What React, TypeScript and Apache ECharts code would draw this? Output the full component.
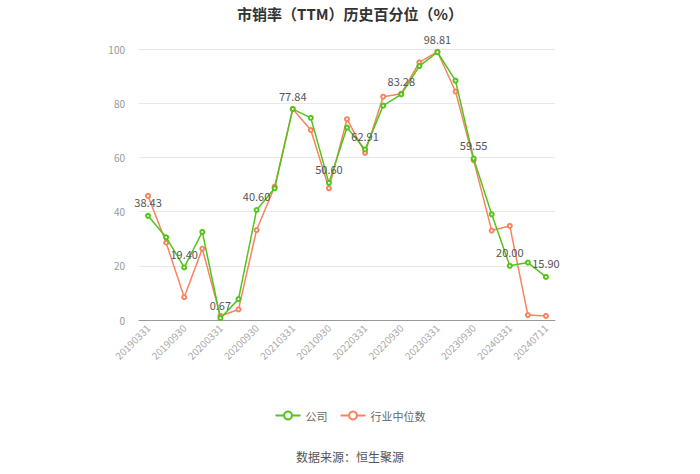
import React, { useEffect, useRef } from "react";
import * as echarts from "echarts";

const categories = [
  "20190331", "20190630", "20190930", "20191231", "20200331", "20200630",
  "20200930", "20201231", "20210331", "20210630", "20210930", "20211231",
  "20220331", "20220630", "20220930", "20221231", "20230331", "20230630",
  "20230930", "20231231", "20240331", "20240630", "20240711",
];

const companyValues = [
  38.43, 30.5, 19.4, 32.5, 0.67, 7.7, 40.6, 48.6, 77.84, 74.6, 50.6, 71.0,
  62.91, 79.1, 83.28, 93.7, 98.81, 88.3, 59.55, 39.0, 20.0, 21.2, 15.9,
];

const industryValues = [
  45.8, 28.5, 8.4, 26.3, 1.5, 3.9, 33.2, 49.2, 77.9, 70.1, 48.6, 74.1,
  61.7, 82.4, 83.5, 95.1, 99.0, 84.3, 59.0, 33.0, 34.7, 1.8, 1.5,
];

const labeledIndexes = [0, 2, 4, 6, 8, 10, 12, 14, 16, 18, 20, 22];

const GREEN = "#52c41a";
const ORANGE = "#f7845e";

export default function App() {
  const ref = useRef<HTMLDivElement>(null);
  useEffect(() => {
    document.body.style.margin = "0";
    if (!ref.current) return;
    const chart = echarts.init(ref.current, null, { renderer: "svg" });
    const font = "'Microsoft YaHei', 'Noto Sans CJK SC', 'Noto Sans', sans-serif";
    chart.setOption({
      animation: false,
      textStyle: { fontFamily: font },
      title: {
        text: "市销率（TTM）历史百分位（%）",
        left: "center",
        top: 1,
        textStyle: { fontSize: 15, fontWeight: "bold", color: "#333", fontFamily: font },
      },
      legend: {
        bottom: 48,
        left: "center",
        itemWidth: 25,
        itemHeight: 10,
        itemGap: 12,
        textStyle: { color: "#666", fontSize: 11 },
        data: ["公司", "行业中位数"],
      },
      graphic: [
        {
          type: "text",
          left: "center",
          top: 450,
          style: { text: "数据来源：恒生聚源", fill: "#555", fontSize: 12, fontFamily: font },
        },
      ],
      grid: { left: 139, right: 145, top: 49, bottom: 154 },
      xAxis: {
        type: "category",
        data: categories,
        boundaryGap: true,
        axisLine: { lineStyle: { color: "#999" } },
        axisTick: { alignWithLabel: true, interval: 1, lineStyle: { color: "#999" } },
        axisLabel: { interval: 1, rotate: 45, color: "#aaa", fontSize: 10, margin: 6 },
      },
      yAxis: {
        type: "value",
        min: 0,
        max: 100,
        interval: 20,
        axisLine: { show: false },
        axisTick: { show: false },
        axisLabel: { color: "#999", fontSize: 10, margin: 14 },
        splitLine: { lineStyle: { color: "#e8e8e8" } },
      },
      series: [
        {
          name: "公司",
          type: "line",
          data: companyValues.map((v, i) => ({
            value: v,
            label: {
              show: labeledIndexes.includes(i),
              formatter: (p: any) => Number(p.value).toFixed(2),
            },
          })),
          symbol: "emptyCircle",
          symbolSize: 4,
          color: GREEN,
          lineStyle: { width: 1.5, color: GREEN },
          itemStyle: { color: GREEN, borderWidth: 1.5 },
          label: { position: "top", color: "#555", fontSize: 11, distance: 5 },
          z: 3,
        },
        {
          name: "行业中位数",
          type: "line",
          data: industryValues,
          symbol: "emptyCircle",
          symbolSize: 4,
          color: ORANGE,
          lineStyle: { width: 1.5, color: ORANGE },
          itemStyle: { color: ORANGE, borderWidth: 1.5 },
          z: 2,
        },
      ],
    });
    return () => chart.dispose();
  }, []);
  return <div ref={ref} style={{ width: 700, height: 474 }} />;
}
